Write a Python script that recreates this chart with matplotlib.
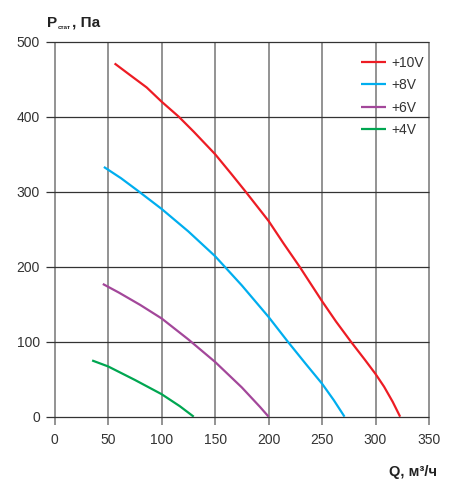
import matplotlib
matplotlib.use("Agg")
import matplotlib.pyplot as plt

plt.rcParams['font.family'] = ['Liberation Sans', 'DejaVu Sans']

# curve data, Q [m3/h] vs P [Pa]
q_10v = [56, 70, 86, 100, 116, 130, 150, 165, 178, 200, 214, 229, 250, 263, 277, 290, 300, 308, 316, 323]
p_10v = [471, 456, 439, 420, 400, 380, 350, 324, 301, 261, 231, 200, 154, 127, 100, 76, 57, 40, 20, 0]

q_8v = [46, 62, 78, 100, 125, 150, 175, 200, 218, 235, 250, 261, 271]
p_8v = [333, 318, 301, 277, 247, 214, 175, 133, 100, 70, 44, 22, 0]

q_6v = [45, 60, 80, 100, 125, 150, 175, 192, 200]
p_6v = [177, 165.5, 149, 131, 103, 73, 39, 13, 0]

q_4v = [35, 50, 75, 100, 117, 130]
p_4v = [75, 67, 49, 30, 14, 0]

labels = ['+10V', '+8V', '+6V', '+4V']
colors = ['#ED1C24', '#00AEEF', '#A3479A', '#00A651']

x_ticks = [0, 50, 100, 150, 200, 250, 300, 350]
y_ticks = [0, 100, 200, 300, 400, 500]

fig = plt.figure(figsize=(4.58, 4.86), dpi=100)
ax = fig.add_axes([54.7 / 458, 1 - 416.7 / 486, (429 - 54.7) / 458, (416.7 - 41.7) / 486])
ax.set_xlim(0, 350)
ax.set_ylim(0, 500)
for s in ax.spines.values():
    s.set_visible(False)

# grid: gray verticals reaching below the axis, dark horizontals reaching left
ax.vlines(x_ticks, -11, 500, colors='#8a8a8a', linewidth=1.3, clip_on=False, zorder=1)
ax.hlines(y_ticks, -8.5, 350, colors='#333333', linewidth=0.9, clip_on=False, zorder=2)

for q, p, lab, c in zip([q_10v, q_8v, q_6v, q_4v], [p_10v, p_8v, p_6v, p_4v], labels, colors):
    ax.plot(q, p, color=c, linewidth=1.6, label=lab, zorder=3, solid_capstyle='butt')

ax.set_xticks(x_ticks)
ax.set_yticks(y_ticks)
ax.tick_params(axis='both', length=0, labelsize=10, labelcolor='#333333')
ax.tick_params(axis='x', pad=12)
ax.tick_params(axis='y', pad=10.5)

leg = ax.legend(loc='upper left', bbox_to_anchor=((360.5 - 54.7) / 374.3, 1 - (56 - 41.7) / 375),
                frameon=False, fontsize=10, handlelength=1.8, handletextpad=0.45,
                labelspacing=0.6, borderaxespad=0, borderpad=0)
for t in leg.get_texts():
    t.set_color('#333333')

# axis titles
fig.text(46.5 / 458, 1 - 26.7 / 486, 'P', fontsize=11, fontweight='bold', color='#222222')
fig.text(58 / 458, 1 - 29.3 / 486, 'стат', fontsize=4.5, fontweight='bold', color='#222222')
fig.text(71.5 / 458, 1 - 26.7 / 486, ', Па', fontsize=11, fontweight='bold', color='#222222')

fig.text(437 / 458, 1 - 476 / 486, 'Q, м³/ч', fontsize=10.5, fontweight='bold',
         color='#222222', ha='right')

fig.savefig('out.png', dpi=100)
